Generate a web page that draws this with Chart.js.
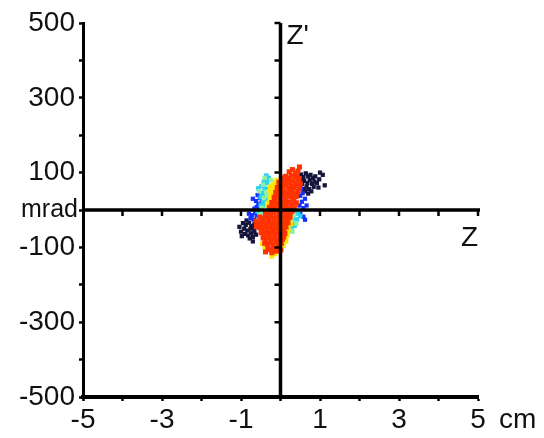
<!DOCTYPE html>
<html>
<head>
<meta charset="utf-8">
<script src="https://cdn.jsdelivr.net/npm/chart.js@4/dist/chart.umd.min.js"></script>
<style>
  html, body { margin: 0; padding: 0; background: #fff; }
  #wrap { width: 544px; height: 438px; }
</style>
</head>
<body>
<div id="wrap"><canvas id="phase"></canvas></div>
<script>
// Z (cm) vs Z' (mrad) phase-space points, grouped by colour
const redPts = [
  [0.22,102],[0.30,108],[0.38,98],[0.44,104],[0.48,115],
  [0.06,86],[0.13,90],[0.20,85],[0.27,92],[0.35,87],[0.42,90],[0.47,84],
  [-0.04,74],[0.03,78],[0.10,72],[0.17,77],[0.24,73],[0.31,78],[0.38,72],[0.45,76],[0.50,70],
  [-0.08,60],[-0.01,64],[0.06,61],[0.13,65],[0.20,59],[0.27,63],[0.34,60],[0.41,64],[0.48,58],
  [-0.12,47],[-0.05,50],[0.02,46],[0.09,49],[0.16,45],[0.23,50],[0.30,47],[0.37,44],[0.44,49],
  [-0.16,34],[-0.09,37],[-0.02,33],[0.05,36],[0.12,32],[0.19,37],[0.26,34],[0.33,31],[0.40,36],
  [-0.22,20],[-0.15,23],[-0.08,19],[-0.01,22],[0.06,18],[0.13,23],[0.20,20],[0.27,17],[0.34,22],[0.40,19],
  [-0.28,7],[-0.21,10],[-0.14,6],[-0.07,9],[0.00,5],[0.07,10],[0.14,7],[0.21,4],[0.28,9],[0.35,6],
  [-0.38,-5],[-0.31,-8],[-0.24,-4],[-0.17,-7],[-0.10,-3],[-0.03,-8],[0.04,-5],[0.11,-9],[0.18,-4],[0.25,-7],[0.30,-2],
  [-0.52,-19],[-0.45,-22],[-0.38,-18],[-0.31,-21],[-0.24,-17],[-0.17,-23],[-0.10,-19],[-0.03,-22],[0.04,-18],[0.11,-21],[0.18,-17],[0.24,-20],
  [-0.62,-30],[-0.57,-33],[-0.50,-36],[-0.43,-32],[-0.36,-35],[-0.29,-31],[-0.22,-37],[-0.15,-33],[-0.08,-36],[-0.01,-32],[0.06,-35],[0.13,-31],[0.19,-34],
  [-0.61,-44],[-0.54,-47],[-0.47,-50],[-0.40,-46],[-0.33,-49],[-0.26,-45],[-0.19,-51],[-0.12,-47],[-0.05,-50],[0.02,-46],[0.09,-49],[0.14,-45],
  [-0.49,-61],[-0.42,-64],[-0.35,-60],[-0.28,-63],[-0.21,-59],[-0.14,-65],[-0.07,-61],[0.00,-64],[0.07,-60],[0.11,-63],
  [-0.44,-75],[-0.37,-78],[-0.30,-74],[-0.23,-77],[-0.16,-73],[-0.09,-79],[-0.02,-75],[0.05,-78],[0.08,-72],
  [-0.40,-89],[-0.33,-92],[-0.26,-88],[-0.19,-91],[-0.12,-87],[-0.05,-93],[0.02,-89],
  [-0.32,-103],[-0.25,-106],[-0.18,-102],[-0.11,-105],[-0.04,-101],[0.01,-107],
  [-0.22,-114],[-0.10,-110],[-0.38,-112]
];
const yellowPts = [
  [-0.26,62],[-0.20,66],[-0.28,50],[-0.22,44],[-0.18,56],[-0.27,34],[-0.24,28],[-0.30,20],
  [-0.34,12],[-0.26,8],[-0.14,72],[-0.10,80],
  [0.18,-10],[0.24,-22],[0.22,-32],[0.26,-38],[0.18,-44],[0.20,-52],[0.16,-60],[0.18,-68],
  [0.14,-76],[0.14,-84],[0.08,-95],
  [-0.46,-90],[-0.40,-100],
  [-0.22,-124],[-0.14,-118]
];
const greenPts = [
  [-0.40,86],[-0.44,68],[-0.36,48],[-0.42,32],[-0.34,40],[-0.48,6],[-0.54,50],[-0.24,80],
  [-0.52,-14],[-0.46,-8],[-0.56,-26],
  [0.26,-8],[0.34,-14],[0.40,-36],[0.28,-26],[0.24,-55],[0.30,-58]
];
const cyanPts = [
  [-0.36,92],[-0.30,86],[-0.42,76],[-0.34,72],[-0.48,64],[-0.40,58],[-0.32,56],[-0.46,46],
  [-0.38,40],[-0.50,34],[-0.36,28],[-0.44,22],[-0.40,12],[-0.50,14],[-0.30,80],[-0.56,58],
  [-0.58,-4],[-0.50,-26],
  [0.32,-5],[0.38,-10],[0.45,-4],[0.33,-22],[0.42,-25],[0.50,-16],[0.30,-34],[0.36,-42],[0.28,-46]
];
const bluePts = [
  [-0.58,40],[-0.52,32],[-0.62,24],[-0.56,16],[-0.48,20],[-0.60,8],[-0.66,4],[-0.54,2],[-0.70,30],
  [-0.80,-10],[-0.72,-14],[-0.64,-8],[-0.76,-22],[-0.68,-26],[-0.60,-18],
  [0.52,58],[0.56,45],[0.50,38],[0.62,30],[0.54,22],[0.66,12],[0.58,5],[0.48,12],
  [0.50,-10],[0.58,-18],[0.62,-26]
];
const navyPts = [
  [0.52,95],[0.58,88],[0.64,98],[0.70,90],[0.76,94],[0.82,85],[0.88,90],[0.60,78],[0.68,72],[0.74,80],
  [0.80,70],[0.86,76],[0.92,72],[0.66,62],[0.72,56],[0.55,70],[0.62,50],[0.70,44],[0.58,56],
  [0.52,80],[0.84,62],[0.78,50],[0.96,60],
  [1.07,94],[1.12,66],[0.98,82],[1.00,100],
  [-0.95,-35],[-0.88,-40],[-0.80,-34],[-0.74,-42],[-0.92,-50],[-0.84,-55],[-0.76,-50],[-0.68,-48],
  [-0.90,-64],[-0.82,-68],[-0.74,-62],[-0.66,-58],[-0.78,-76],[-0.70,-72],[-0.62,-66],[-0.86,-28],[-0.66,-38],[-1.0,-58],
  [-1.04,-45],[-0.98,-70],[-0.70,-84]
];

const xTicks = [-5, -3, -1, 1, 3, 5];
const yTicks = [500, 300, 100, -100, -300, -500];

const FONT = "'Liberation Sans', Arial, sans-serif";

function toXY(arr) {
  return arr.map(p => ({ x: p[0], y: p[1] }));
}

function series(pts, color, r) {
  return {
    data: toXY(pts),
    backgroundColor: color,
    borderWidth: 0,
    pointStyle: "rect",
    pointRadius: r,
    pointHoverRadius: r
  };
}

// cross-hair axes through the origin plus the loose labels
const crossAxes = {
  id: "crossAxes",
  afterDatasetsDraw(chart) {
    const { ctx, chartArea: a, scales: { x, y } } = chart;
    const x0 = x.getPixelForValue(0);
    const y0 = y.getPixelForValue(0);
    ctx.save();
    ctx.strokeStyle = "#000";
    ctx.lineWidth = 3.5;
    ctx.beginPath();
    ctx.moveTo(a.left, y0);
    ctx.lineTo(a.right + 2, y0);
    ctx.moveTo(x0, a.top);
    ctx.lineTo(x0, a.bottom);
    ctx.stroke();

    ctx.lineWidth = 2.5;
    ctx.beginPath();
    for (let v = -4; v <= 5; v++) {
      if (v === 0) continue;
      const px = x.getPixelForValue(v);
      ctx.moveTo(px, y0);
      ctx.lineTo(px, y0 + 6);
    }
    for (let v = -400; v <= 500; v += 100) {
      if (v === 0) continue;
      const py = y.getPixelForValue(v);
      ctx.moveTo(x0, py);
      ctx.lineTo(x0 - 6, py);
    }
    ctx.stroke();

    ctx.fillStyle = "#111";
    ctx.textBaseline = "middle";
    ctx.font = "28px " + FONT;
    ctx.textAlign = "left";
    ctx.fillText("Z'", x0 + 6, a.top + 13);
    ctx.fillText("Z", a.right - 17, y0 + 28);
    ctx.fillText("cm", x.getPixelForValue(5) + 21, a.bottom + 23);
    ctx.font = "25px " + FONT;
    ctx.textAlign = "right";
    ctx.fillText("mrad", a.left - 5, y0);
    ctx.restore();
  }
};

new Chart(document.getElementById("phase"), {
  type: "scatter",
  data: {
    datasets: [
      series(redPts, "#ff3300", 3.6),
      series(yellowPts, "#ffe600", 3.2),
      series(greenPts, "#8ef0a0", 3.2),
      series(cyanPts, "#2cd0f0", 3.2),
      series(bluePts, "#1530ff", 3),
      series(navyPts, "#14143c", 3)
    ]
  },
  options: {
    responsive: true,
    maintainAspectRatio: false,
    animation: false,
    layout: { padding: { left: 0, top: 23, right: 66, bottom: 0 } },
    plugins: { legend: { display: false }, tooltip: { enabled: false } },
    scales: {
      x: {
        type: "linear",
        min: -5, max: 5,
        afterFit(s) { s.height = 41; },
        afterBuildTicks(s) {
          s.ticks = [];
          for (let v = -5; v <= 5; v++) s.ticks.push({ value: v });
        },
        ticks: {
          autoSkip: false, maxRotation: 0, padding: 2,
          color: "#111", font: { family: FONT, size: 28 },
          callback: v => (xTicks.includes(v) ? String(v) : "")
        },
        grid: { drawOnChartArea: false, drawTicks: true, tickLength: 4, tickWidth: 2.5, color: "#000" },
        border: { display: true, width: 4, color: "#000" }
      },
      y: {
        type: "linear",
        min: -500, max: 500,
        afterFit(s) { s.width = 83; },
        afterBuildTicks(s) {
          s.ticks = [];
          for (let v = -500; v <= 500; v += 100) s.ticks.push({ value: v });
        },
        ticks: {
          autoSkip: false, padding: 4,
          color: "#111", font: { family: FONT, size: 28 },
          callback: v => (yTicks.includes(v) ? String(v) : "")
        },
        grid: { drawOnChartArea: false, drawTicks: true, tickLength: 4, tickWidth: 2.5, color: "#000" },
        border: { display: true, width: 3, color: "#000" }
      }
    }
  },
  plugins: [crossAxes]
});
</script>
</body>
</html>
